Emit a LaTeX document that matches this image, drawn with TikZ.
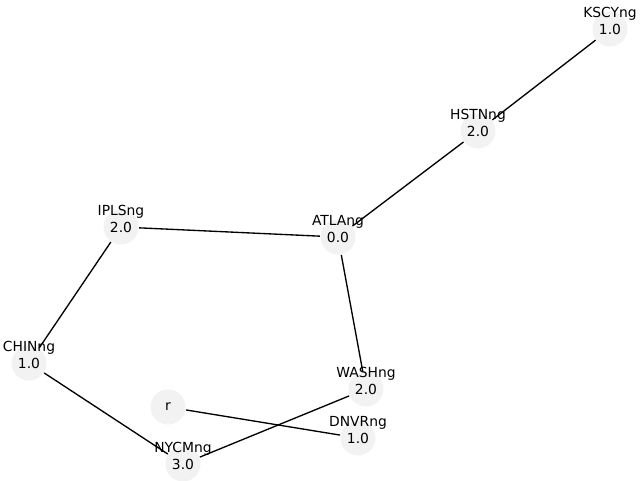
\documentclass[tikz,border=0pt]{standalone}
\usepackage{fontspec}
\setmainfont{DejaVu Sans}
\definecolor{nodegray}{RGB}{242,242,242}
\tikzset{
  vtx/.style={circle, fill=nodegray, minimum size=26.25pt, inner sep=0pt},
  lbl/.style={align=center, inner sep=0pt},
}
\begin{document}
\begin{tikzpicture}[x=0.75pt, y=-0.75pt, line width=1pt,
  font=\fontsize{10.4}{12.5}\selectfont]
\useasboundingbox (0,0) rectangle (640,480);

%%%%%%%%%%%% Nodes
\foreach \n/\x/\y in {KSCY/610/29, HSTN/478/131, IPLS/121/227, ATLA/338/237,
    CHIN/29/363, WASH/366/389, DNVR/358/438, NYCM/183/464, r/168/407}
  \node[vtx] (\n) at (\x,\y) {};

%%%%%%%%%%%% Edges
\draw (KSCY) -- (HSTN);
\draw (HSTN) -- (ATLA);
\draw (ATLA) -- (IPLS);
\draw (ATLA) -- (WASH);
\draw (IPLS) -- (CHIN);
\draw (CHIN) -- (NYCM);
\draw (NYCM) -- (WASH);
\draw (r) -- (DNVR);

%%%%%%%%%%%% Labels
\foreach \n/\v in {KSCY/1.0, HSTN/2.0, IPLS/2.0, ATLA/0.0,
    CHIN/1.0, WASH/2.0, DNVR/1.0, NYCM/3.0}
  \node[lbl] at ([yshift=6pt]\n.center) {\n ng\\\v};
\node[lbl] at (r.center) {r};
\end{tikzpicture}
\end{document}
